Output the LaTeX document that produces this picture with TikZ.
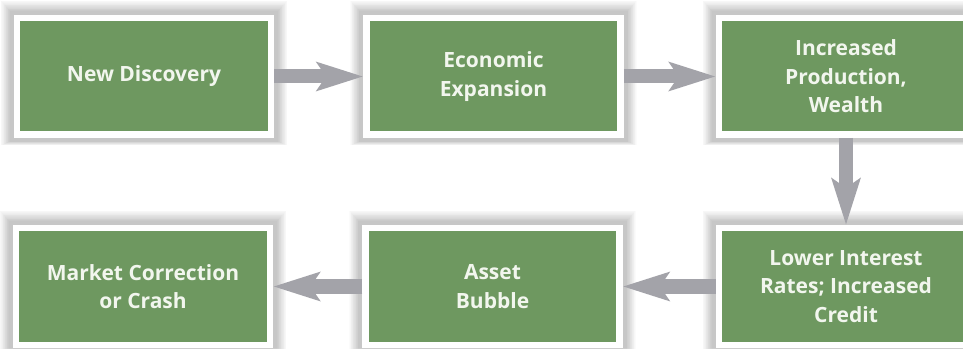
\documentclass[tikz,border=0pt]{standalone}
\usepackage{fontspec}
\setmainfont{Open Sans}
\usetikzlibrary{arrows.meta,backgrounds}
\definecolor{boxgreen}{RGB}{110,152,96}
\definecolor{boxtext}{RGB}{242,246,238}
\definecolor{arrowgray}{RGB}{163,163,169}
\tikzset{
  stagebox/.style={rectangle, fill=boxgreen, draw=white, line width=6.5pt,
    minimum width=254pt, minimum height=116.5pt, inner sep=0pt,
    align=center, text=boxtext, font=\bfseries\fontsize{21}{28.5}\selectfont},
  flowarrow/.style={draw=arrowgray, line width=14pt,
    -{Stealth[length=46pt, width=28pt, inset=9pt, fill=arrowgray]}, shorten >=0pt}
}
\begin{document}
\begin{tikzpicture}[x=1pt,y=1pt]
\useasboundingbox (0,0) rectangle (963,348);
\clip (0,0) rectangle (963,348);
\node[stagebox] (nd)  at (144,271.5) {New Discovery};
\node[stagebox] (ee)  at (493.5,271.5) {Economic\\Expansion};
\node[stagebox] (ip)  at (846,271.5) {Increased\\Production,\\Wealth};
\node[stagebox] (mc)  at (143,61.5) {Market Correction\\or Crash};
\node[stagebox] (ab)  at (492.5,61.5) {Asset\\Bubble};
\node[stagebox] (lr)  at (846,61.5) {Lower Interest\\Rates; Increased\\Credit};
\begin{scope}[on background layer]
  \fill[white] (0,0) rectangle (963,348);
  \foreach \n in {nd,ee,ip,mc,ab,lr}{
    \foreach \i in {1,...,14}{
      \fill[black, opacity=0.016]
        ([shift={(-3.25-\i*0.7,-3.25-\i*0.3)}]\n.south west) rectangle
        ([shift={(3.25+\i*0.7,3.25+\i*0.8)}]\n.north east);
    }
  }
\end{scope}
\draw[flowarrow] (nd.east) -- (ee.west);
\draw[flowarrow] (ee.east) -- (ip.west);
\draw[flowarrow] (ip.south) -- (lr.north);
\draw[flowarrow] (lr.west) -- (ab.east);
\draw[flowarrow] (ab.west) -- (mc.east);
\end{tikzpicture}
\end{document}
